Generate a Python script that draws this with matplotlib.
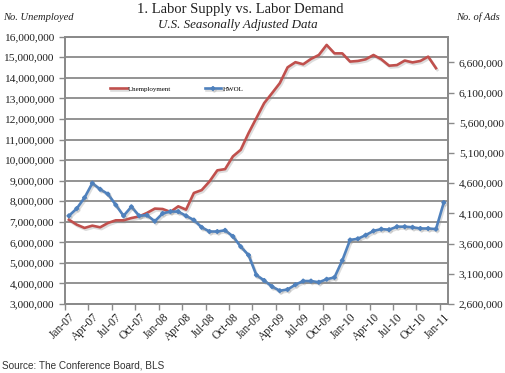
import matplotlib
matplotlib.use('Agg')
import matplotlib.pyplot as plt
import matplotlib.patheffects as pe
from matplotlib.ticker import FuncFormatter, FixedLocator
import numpy as np

# ---- data ----
tick_labels = ['Jan-07', 'Apr-07', 'Jul-07', 'Oct-07', 'Jan-08', 'Apr-08', 'Jul-08', 'Oct-08',
               'Jan-09', 'Apr-09', 'Jul-09', 'Oct-09', 'Jan-10', 'Apr-10', 'Jul-10', 'Oct-10', 'Jan-11']

# Unemployment (millions), Jan-07 .. Dec-10
unemployment = [7.10, 6.86, 6.70, 6.81, 6.73, 6.94, 7.07, 7.07, 7.18, 7.26, 7.43, 7.64,
                7.62, 7.48, 7.75, 7.59, 8.40, 8.54, 8.96, 9.50, 9.56, 10.18, 10.50, 11.31,
                12.04, 12.77, 13.25, 13.74, 14.51, 14.76, 14.66, 14.92, 15.11, 15.60, 15.19, 15.19,
                14.79, 14.82, 14.90, 15.11, 14.90, 14.59, 14.62, 14.84, 14.75, 14.82, 15.03, 14.47]

# HWOL (millions), Jan-07 .. Jan-11
hwol = [4.06, 4.18, 4.36, 4.60, 4.50, 4.42, 4.24, 4.06, 4.21, 4.06, 4.07, 3.97,
        4.10, 4.13, 4.13, 4.06, 3.99, 3.87, 3.80, 3.80, 3.82, 3.72, 3.55, 3.41,
        3.08, 2.99, 2.89, 2.82, 2.84, 2.92, 2.98, 2.98, 2.96, 3.01, 3.04, 3.32,
        3.66, 3.68, 3.74, 3.81, 3.84, 3.83, 3.88, 3.88, 3.87, 3.85, 3.85, 3.84,
        4.28]

unemp = np.array(unemployment) * 1e6
ads = np.array(hwol) * 1e6
x_u = np.arange(len(unemp))
x_h = np.arange(len(ads))

SERIF = ['Liberation Serif', 'DejaVu Serif']
RED = '#C0504D'
BLUE = '#4F81BD'
GRID = '#8a8a8a'
TXT = '#1f1f1f'

fig = plt.figure(figsize=(5.05, 3.73), dpi=100)
W, H = 505, 373
ax = fig.add_axes([65 / W, 69 / H, (447.7 - 65) / W, (304 - 36.7) / H])

shadow = [pe.SimpleLineShadow(offset=(1.0, -1.3), shadow_color='#8f8f8f', alpha=0.3), pe.Normal()]

l1, = ax.plot(x_u, unemp, color=RED, lw=1.9, label='Unemployment', path_effects=shadow, zorder=3)
ax.set_xlim(-0.5, 48.5)
ax.set_ylim(3e6, 16e6)
ax.set_yticks(np.arange(3e6, 16e6 + 1, 1e6))
fmt = FuncFormatter(lambda v, p: f'{int(round(v)):,}')
ax.yaxis.set_major_formatter(fmt)
ax.yaxis.grid(True, color=GRID, lw=1.3)
ax.set_axisbelow(True)

ax2 = ax.twinx()
l2, = ax2.plot(x_h, ads, color=BLUE, lw=1.9, marker='D', markersize=2.0, label='HWOL',
               path_effects=shadow, zorder=3)
ax2.set_ylim(2.6e6, 7.025e6)
ax2.set_yticks(np.arange(2.6e6, 6.6e6 + 1, 0.5e6))
ax2.yaxis.set_major_formatter(fmt)

# x ticks: labels at category centres, marks at boundaries
centers = np.arange(0, 49, 3)
ax.xaxis.set_major_locator(FixedLocator(centers))
ax.set_xticklabels(tick_labels, rotation=45, ha='right', rotation_mode='anchor',
                   fontsize=8.3, family=SERIF, color=TXT)
ax.xaxis.set_minor_locator(FixedLocator(centers - 0.5))
ax.tick_params(axis='x', which='major', length=0, pad=5)
ax.tick_params(axis='x', which='minor', length=4, color=GRID, width=1)

for a in (ax, ax2):
    for s in a.spines.values():
        s.set_color(GRID)
        s.set_linewidth(1.3)
ax.tick_params(axis='y', length=4, color=GRID, width=1, labelsize=8.2, labelcolor=TXT, pad=4)
ax2.tick_params(axis='y', length=4, color=GRID, width=1, labelsize=8.2, labelcolor=TXT, pad=4)
for lab in ax.get_yticklabels() + ax2.get_yticklabels():
    lab.set_family(SERIF)

leg = ax.legend(handles=[l1, l2], loc='center left', bbox_to_anchor=(110 / W, 1 - 89 / H),
                bbox_transform=fig.transFigure, ncol=2, frameon=False,
                handlelength=2.4, handletextpad=0.2, columnspacing=4.8, borderpad=0,
                borderaxespad=0, prop={'family': SERIF, 'size': 5})

fig.text(240 / W, 1 - 9 / H, '1. Labor Supply vs. Labor Demand', ha='center', va='center',
         fontsize=10.5, family=SERIF, color=TXT)
fig.text(238 / W, 1 - 25 / H, 'U.S. Seasonally Adjusted Data', ha='center', va='center',
         fontsize=9.4, family=SERIF, style='italic', color=TXT)
fig.text(3 / W, 1 - 17 / H, 'No. Unemployed', ha='left', va='center',
         fontsize=7.6, family=SERIF, style='italic', color=TXT)
fig.text(500 / W, 1 - 17 / H, 'No. of Ads', ha='right', va='center',
         fontsize=7.6, family=SERIF, style='italic', color=TXT)
fig.text(2 / W, 1 - 366 / H, 'Source: The Conference Board, BLS', ha='left', va='center',
         fontsize=7.2, family=['Liberation Sans', 'DejaVu Sans'], color='#333333')

fig.savefig('out.png', dpi=100)
